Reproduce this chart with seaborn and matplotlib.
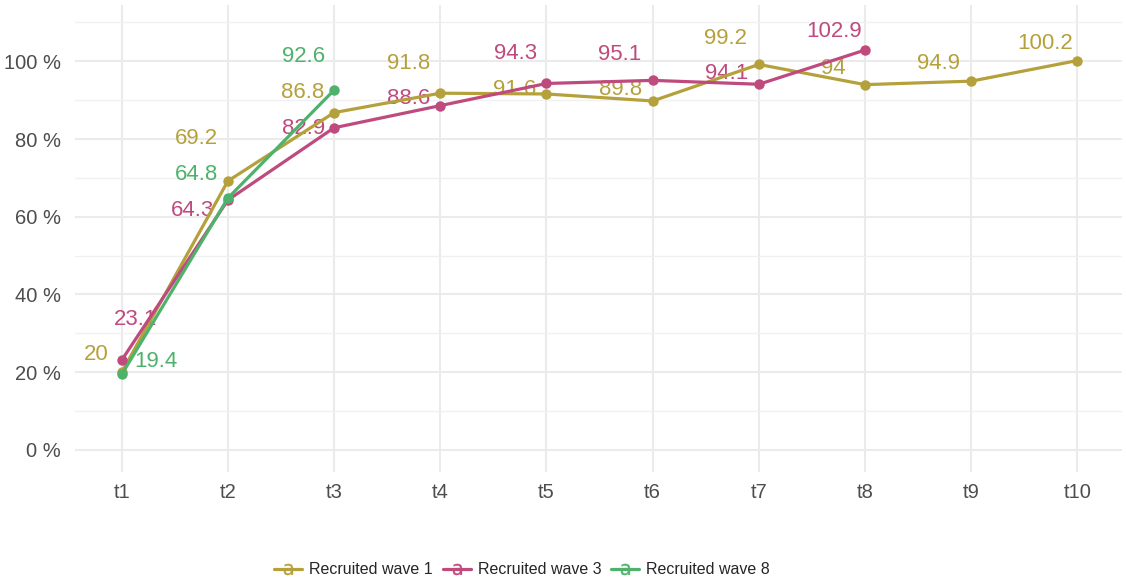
import pandas as pd
import numpy as np
import matplotlib
matplotlib.use("Agg")
import matplotlib.pyplot as plt
from matplotlib.lines import Line2D
import seaborn as sns

# data
times = ["t1", "t2", "t3", "t4", "t5", "t6", "t7", "t8", "t9", "t10"]
waves = ["Recruited wave 1", "Recruited wave 3", "Recruited wave 8"]
wave1 = [20, 69.2, 86.8, 91.8, 91.6, 89.8, 99.2, 94, 94.9, 100.2]
wave3 = [23.1, 64.3, 82.9, 88.6, 94.3, 95.1, 94.1, 102.9]
wave8 = [19.4, 64.8, 92.6]

colors = ["#b5a13c", "#bf4a7e", "#4fb26c"]

# label offsets in pixels (dx, dy) so labels sit like the original
label_offsets = {
    "Recruited wave 1": [(-25, 18), (-31, 42), (-31, 20), (-32, 30), (-32, 4),
                         (-32, 11), (-33, 26), (-32, 16), (-33, 18), (-32, 17)],
    "Recruited wave 3": [(14, 41), (-35, -10), (-31, -1), (-32, 7), (-31, 30),
                         (-33, 26), (-32, 11), (-31, 19)],
    "Recruited wave 8": [(34, 13), (-31, 24), (-31, 34)],
}

rows = []
for wave, vals in zip(waves, [wave1, wave3, wave8]):
    for t, v in zip(times, vals):
        rows.append({"time": t, "value": v, "wave": wave})
df = pd.DataFrame(rows)
df["time"] = pd.Categorical(df["time"], categories=times, ordered=True)
df["x"] = df["time"].cat.codes

sns.set_theme(style="white")
plt.rcParams["font.family"] = ["Liberation Sans", "DejaVu Sans"]

fig = plt.figure(figsize=(11.26, 5.82), dpi=100)
ax = fig.add_axes([75 / 1126, 110 / 582, 1047 / 1126, 467 / 582])

sns.lineplot(data=df, x="x", y="value", hue="wave", hue_order=waves,
             palette=colors, marker="o", markersize=7.5, markeredgewidth=0,
             linewidth=2.3, ax=ax, legend=False, zorder=3)

for wave, color in zip(waves, colors):
    sub = df[df["wave"] == wave]
    for (xv, yv), off in zip(zip(sub["x"], sub["value"]), label_offsets[wave]):
        ax.annotate(f"{yv:g}", (xv, yv), xytext=off, textcoords="offset pixels",
                    ha="center", va="center", color=color, fontsize=16, zorder=1.5)

ax.set_xlim(-0.44, 9.42)
ax.set_ylim(-5.7, 114.5)
ax.set_xticks(range(len(times)))
ax.set_xticklabels(times)
ax.set_yticks([0, 20, 40, 60, 80, 100])
ax.set_yticklabels([f"{v} %" for v in [0, 20, 40, 60, 80, 100]])
ax.set_yticks([10, 30, 50, 70, 90, 110], minor=True)
ax.grid(True, which="major", color="#ebebeb", linewidth=1.5)
ax.grid(True, which="minor", axis="y", color="#f0f0f0", linewidth=1.0)
ax.set_axisbelow(True)
for s in ax.spines.values():
    s.set_visible(False)
ax.tick_params(axis="both", which="both", length=0, labelsize=14.5, labelcolor="#4d4d4d")
ax.tick_params(axis="y", pad=10)
ax.tick_params(axis="x", pad=8)
ax.set_xlabel("")
ax.set_ylabel("")

handles = [Line2D([0], [0], color=c, linewidth=2.3, marker="$\\mathrm{a}$", markersize=8,
                  markeredgewidth=0.3) for c in colors]
fig.legend(handles, waves, loc="center", bbox_to_anchor=(522 / 1126, 12 / 582),
           ncol=3, frameon=False, fontsize=11.5, handlelength=1.75,
           columnspacing=0.6, handletextpad=0.45)

fig.savefig("out.png", dpi=100)
